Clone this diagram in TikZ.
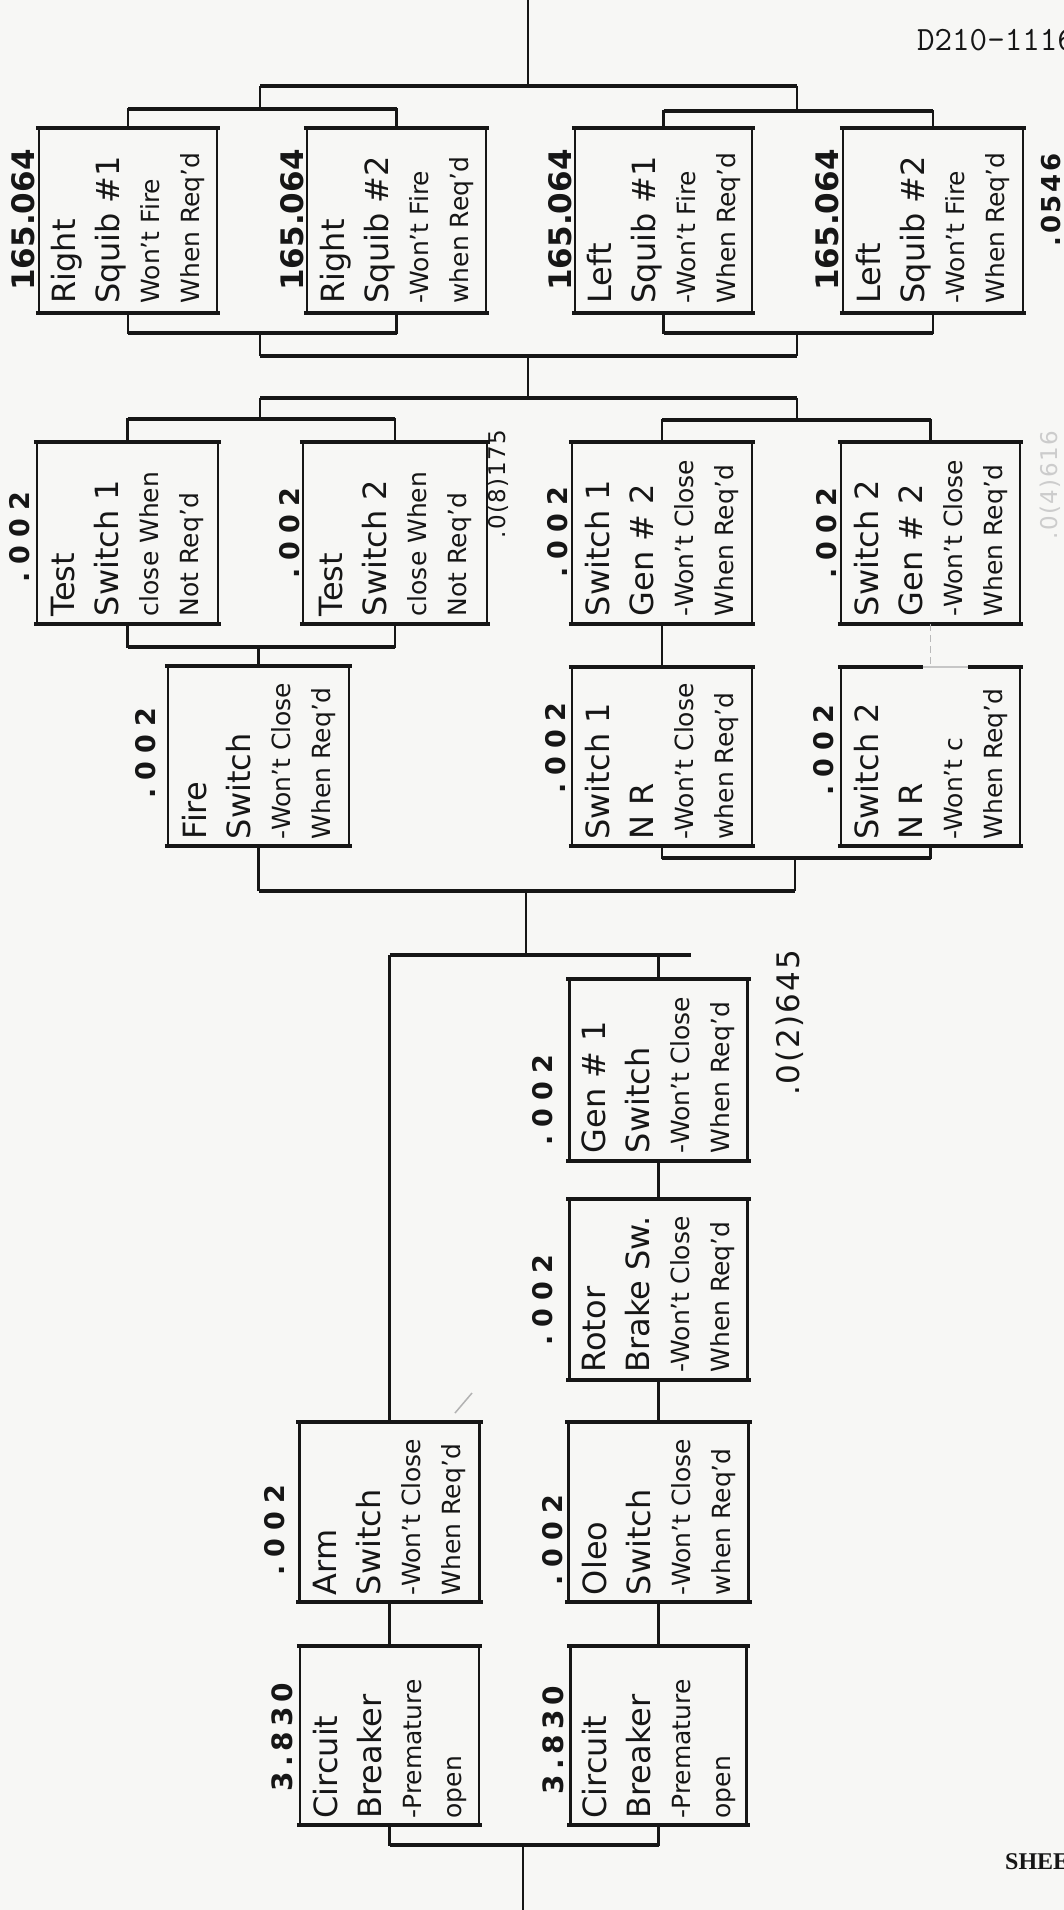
\documentclass[tikz,border=0pt]{standalone}
\usepackage{fontspec}
\usepackage{graphicx}
\setmainfont{DejaVu Sans}
\newfontfamily\serifmark{Liberation Serif}
\definecolor{paper}{RGB}{247,247,245}
\definecolor{ink}{RGB}{22,22,22}
\newcommand\LnA[1]{{\fontsize{32pt}{44pt}\selectfont #1\par}}
\newcommand\LnB[1]{{\fontsize{25pt}{40pt}\selectfont #1\par}}
\newcommand\BoxText[4]{\rotatebox{90}{\parbox{166pt}{\raggedright\LnA{#1}\LnA{#2}\LnB{#3}\LnB{#4}}}}
\newcommand\brk[3]{\draw[vl] (#1) |- (#2) -| (#3); \draw[hb] (#1 |- #2) -- (#3 |- #2);}
\begin{document}
\begin{tikzpicture}[x=1pt,y=-1pt,
  vl/.style={draw=ink,line width=2.6pt},
  hb/.style={draw=ink,line width=4.4pt},
  box/.style={draw=ink,line width=2.4pt,inner sep=0pt,minimum width=180pt,minimum height=180pt,text=ink},
  lab/.style={rotate=90,inner sep=0pt,text=ink},
  lbig/.style={font=\bfseries\fontsize{31pt}{31pt}\selectfont},
  lprob/.style={font=\bfseries\fontsize{27pt}{27pt}\selectfont\addfontfeature{LetterSpace=30}},
  lcb/.style={font=\bfseries\fontsize{28pt}{28pt}\selectfont\addfontfeature{LetterSpace=18}},
  lsum/.style={font=\fontsize{23pt}{23pt}\selectfont\addfontfeature{LetterSpace=6}},
  lsumb/.style={font=\fontsize{31pt}{31pt}\selectfont\addfontfeature{LetterSpace=6}}]
\useasboundingbox (0,0) rectangle (1064,1910);
\fill[paper] (0,0) rectangle (1064,1910);

% ---------- boxes ----------
\node[box,minimum width=178pt,minimum height=183pt] (rs1) at (128,220.5) {\BoxText{Right}{Squib \#1}{Won't Fire}{When Req'd}};
\node[box,minimum width=179pt,minimum height=183pt] (rs2) at (396.5,220.5) {\BoxText{Right}{Squib \#2}{-Won't Fire}{when Req'd}};
\node[box,minimum width=177pt,minimum height=183pt] (ls1) at (663.5,220.5) {\BoxText{Left}{Squib \#1}{-Won't Fire}{When Req'd}};
\node[box,minimum width=180pt,minimum height=183pt] (ls2) at (933,220.5) {\BoxText{Left}{Squib \#2}{-Won't Fire}{When Req'd}};

\node[box,minimum width=181pt] (ts1) at (127.5,533) {\BoxText{Test}{Switch 1}{close When}{Not Req'd}};
\node[box,minimum width=184pt] (ts2) at (395,533) {\BoxText{Test}{Switch 2}{close When}{Not Req'd}};
\node[box] (g1) at (662,533) {\BoxText{Switch 1}{Gen \# 2}{-Won't Close}{When Req'd}};
\node[box,minimum width=179pt] (g2) at (930.5,533) {\BoxText{Switch 2}{Gen \# 2}{-Won't Close}{When Req'd}};

\node[box,minimum width=181pt,minimum height=178pt] (fire) at (258.5,756) {\BoxText{Fire}{Switch}{-Won't Close}{When Req'd}};
\node[box,minimum height=177pt] (n1) at (662,756.5) {\BoxText{Switch 1}{N R}{-Won't Close}{when Req'd}};
\node[box,minimum width=179pt,minimum height=177pt] (n2) at (930.5,756.5) {\BoxText{Switch 2}{N R}{-Won't c}{When Req'd}};

\node[box,minimum width=178pt] (gen1) at (658.5,1070) {\BoxText{Gen \# 1}{Switch}{-Won't Close}{When Req'd}};
\node[box,minimum width=178pt,minimum height=179pt] (rotor) at (658.5,1289.5) {\BoxText{Rotor}{Brake Sw.}{-Won't Close}{When Req'd}};
\node[box,minimum height=178pt] (arm) at (389.5,1512) {\BoxText{Arm}{Switch}{-Won't Close}{When Req'd}};
\node[box,minimum height=178pt] (oleo) at (658.5,1512) {\BoxText{Oleo}{Switch}{-Won't Close}{when Req'd}};
\node[box,minimum width=179pt,minimum height=177pt] (cb1) at (389.5,1735.5) {\BoxText{Circuit}{Breaker}{-Premature}{open}};
\node[box,minimum width=176pt,minimum height=177pt] (cb2) at (658.5,1735.5) {\BoxText{Circuit}{Breaker}{-Premature}{open}};

\foreach \b in {rs1,rs2,ls1,ls2,ts1,ts2,g1,g2,fire,n1,n2,gen1,rotor,oleo,arm,cb1,cb2}
  \draw[hb] ([xshift=-2pt]\b.north west) -- ([xshift=2pt]\b.north east)
            ([xshift=-2pt]\b.south west) -- ([xshift=2pt]\b.south east);

% ---------- junction coordinates ----------
\coordinate (top) at (528,0);
\coordinate (J1) at (528,86);  \coordinate (J1L) at (260,86);  \coordinate (J1R) at (797,86);
\coordinate (J2L) at (260,109); \coordinate (J2R) at (797,111);
\coordinate (J3L) at (260,333); \coordinate (J3R) at (797,333);
\coordinate (J4) at (528,356); \coordinate (J4L) at (260,356); \coordinate (J4R) at (797,356);
\coordinate (K1) at (528,398); \coordinate (K1L) at (260,398); \coordinate (K1R) at (797,398);
\coordinate (K2L) at (260,419); \coordinate (K2R) at (797,420);
\coordinate (K3) at (258.5,647);
\coordinate (K4) at (795,858);
\coordinate (M1) at (526,891);
\coordinate (M2) at (526,955); \coordinate (M2R) at (691,955);
\coordinate (B1) at (523,1845); \coordinate (bot) at (523,1910);

% ---------- connectors ----------
\draw[vl] (top) -- (J1);
\draw[hb] (J1L) -- (J1R);
\draw[vl] (J1L) -- (J2L);
\draw[vl] (J1R) -- (J2R);
\brk{rs1.north}{J2L}{rs2.north}
\brk{ls1.north}{J2R}{ls2.north}
\brk{rs1.south}{J3L}{rs2.south}
\brk{ls1.south}{J3R}{ls2.south}
\draw[vl] (J3L) -- (J4L);
\draw[vl] (J3R) -- (J4R);
\draw[hb] (J4L) -- (J4R);
\draw[vl] (J4) -- (K1);

\draw[hb] (K1L) -- (K1R);
\draw[vl] (K1L) -- (K2L);
\draw[vl] (K1R) -- (K2R);
\brk{ts1.north}{K2L}{ts2.north}
\brk{g1.north}{K2R}{g2.north}
\brk{ts1.south}{K3}{ts2.south}
\draw[vl] (K3) -- (fire.north);
\draw[vl] (g1.south) -- (n1.north);
% faded link and faded top edge of n2
\draw[paper,line width=6pt] ([xshift=-8pt]n2.north) -- ([xshift=37pt]n2.north);
\draw[gray!45,line width=1.6pt] ([xshift=-8pt]n2.north) -- ([xshift=37pt]n2.north);
\draw[gray!55,line width=1.6pt,dash pattern=on 7pt off 4pt] (g2.south) -- (n2.north);
\brk{n1.south}{K4}{n2.south}

\draw[vl] (fire.south) -- (fire.south |- M1);
\draw[vl] (K4) -- (K4 |- M1);
\draw[hb] (fire.south |- M1) -- (K4 |- M1);
\draw[vl] (M1) -- (M2);
\draw[hb] (arm.north |- M2) -- (M2R);
\draw[vl] (arm.north |- M2) -- (arm.north);
\draw[vl] (gen1.north |- M2) -- (gen1.north);
\draw[vl] (gen1.south) -- (rotor.north);
\draw[vl] (rotor.south) -- (oleo.north);
\draw[vl] (oleo.south) -- (cb2.north);
\draw[vl] (arm.south) -- (cb1.north);
\brk{cb1.south}{B1}{cb2.south}
\draw[vl] (B1) -- (bot);

% stray pen mark
\draw[gray!60,line width=1.5pt] (455,1413) -- (472,1393);

% ---------- probability labels ----------
\node[lab,lbig] (p1) at (23,220) {165.064};
\node[lab,lbig] (p2) at (292,220) {165.064};
\node[lab,lbig] (p3) at (560,220) {165.064};
\node[lab,lbig] (p4) at (827,220) {165.064};
\node[lab,font=\bfseries\fontsize{26pt}{26pt}\selectfont\addfontfeature{LetterSpace=10}] (p5) at (1051,200) {.0546};

\node[lab,lprob] (q1) at (20,537) {.002};
\node[lab,lprob] (q2) at (290,533) {.002};
\node[lab,lprob] (q3) at (558,532) {.002};
\node[lab,lprob] (q4) at (827,533) {.002};
\node[lab,lsum] (q5) at (498,484) {.0(8)175};
\node[lab,lsum,text=gray!40] (q6) at (1050,485) {.0(4)616};

\node[lab,lprob] (f1) at (146,753) {.002};
\node[lab,lprob] (f2) at (556,748) {.002};
\node[lab,lprob] (f3) at (824,750) {.002};

\node[lab,lsumb] (r1) at (790,1023) {.0(2)645};
\node[lab,lprob] (r2) at (543,1100) {.002};
\node[lab,lprob] (r3) at (543,1300) {.002};
\node[lab,lprob] (r4) at (275,1530) {.002};
\node[lab,lprob] (r5) at (553,1540) {.002};
\node[lab,lcb] (r6) at (282,1737) {3.830};
\node[lab,lcb] (r7) at (553,1740) {3.830};

% ---------- typed page marks ----------
\node[anchor=west,inner sep=0pt,text=ink,font=\ttfamily\fontsize{34pt}{34pt}\selectfont] (doc) at (917,40) {D210-1116};
\node[anchor=west,inner sep=0pt,text=ink,font=\serifmark\bfseries\fontsize{24pt}{24pt}\selectfont] (sheet) at (1005,1862) {SHEET};
\end{tikzpicture}
\end{document}
